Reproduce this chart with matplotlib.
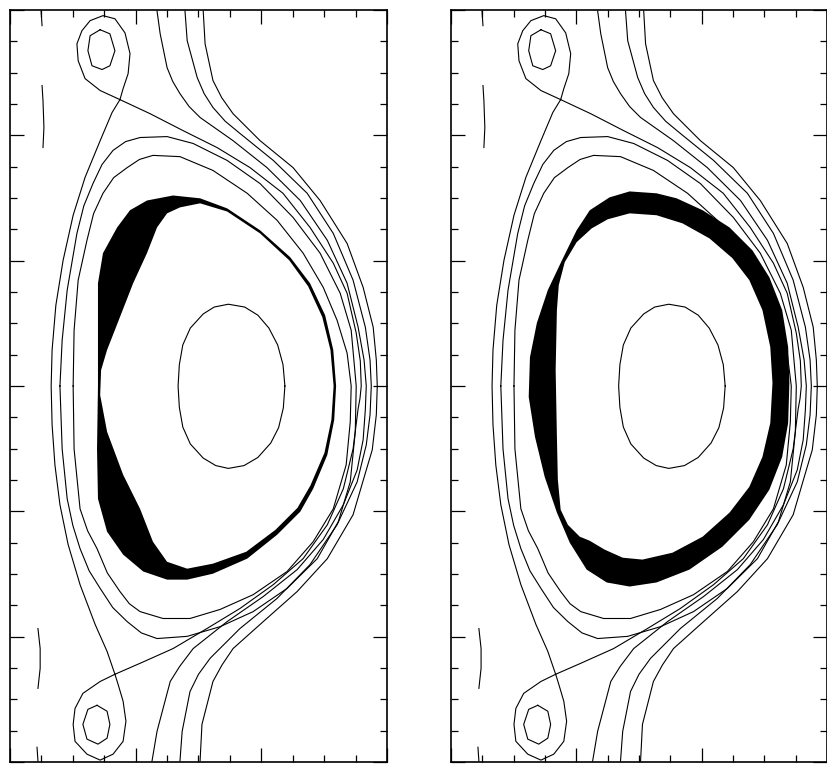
import matplotlib.pyplot as plt
from matplotlib.ticker import MultipleLocator

# flux surface traces (R, Z); minor tick = 1 unit
upper_loop_r = [3.50, 2.87, 2.39, 2.17, 2.13, 2.29, 2.55, 2.96, 3.34, 3.66, 3.82, 3.76, 3.60, 3.50]
upper_loop_z = [9.14, 9.43, 9.81, 10.38, 10.92, 11.34, 11.66, 11.82, 11.72, 11.27, 10.61, 9.97, 9.49, 9.14]

upper_coil_r = [2.87, 3.18, 3.34, 3.18, 2.93, 2.61, 2.48, 2.55, 2.87]
upper_coil_z = [11.37, 11.24, 10.70, 10.22, 10.10, 10.22, 10.70, 11.18, 11.37]

lower_loop_r = [3.34, 2.87, 2.32, 2.07, 2.01, 2.07, 2.45, 2.87, 3.28, 3.60, 3.69, 3.60, 3.44, 3.34]
lower_loop_z = [-9.20, -9.43, -9.81, -10.29, -10.80, -11.34, -11.75, -11.94, -11.75, -11.34, -10.70, -10.06, -9.52, -9.20]

lower_coil_r = [2.77, 3.09, 3.18, 3.09, 2.80, 2.45, 2.32, 2.48, 2.77]
lower_coil_z = [-10.19, -10.38, -10.80, -11.24, -11.43, -11.27, -10.80, -10.32, -10.19]

sep_left_r = [3.50, 3.25, 2.87, 2.39, 2.01, 1.69, 1.46, 1.34, 1.31, 1.34, 1.43, 1.59, 1.85, 2.23, 2.71, 3.09, 3.34]
sep_left_z = [9.14, 8.73, 7.83, 6.66, 5.45, 4.01, 2.58, 1.15, 0.0, -1.24, -2.52, -3.79, -5.06, -6.34, -7.61, -8.47, -9.20]

sep_right_r = [3.50, 4.46, 5.51, 6.59, 7.64, 8.69, 9.55, 10.29, 10.73, 11.02, 11.15, 11.18, 11.14, 11.08, 10.92,
               10.61, 10.10, 9.33, 8.38, 7.32, 6.27, 5.19, 4.14, 3.34]
sep_right_z = [9.14, 8.69, 8.15, 7.61, 6.97, 6.15, 5.06, 3.92, 2.96, 1.69, 0.80, 0.0, -0.40, -0.73, -2.01,
               -3.28, -4.43, -5.51, -6.34, -7.10, -7.74, -8.38, -8.85, -9.20]

outer_surf_r = [1.59, 1.66, 1.82, 2.13, 2.35, 2.64, 2.93, 3.28, 3.68, 4.14, 5.00, 5.83, 6.91, 7.96, 9.01, 9.87,
                10.51, 10.86, 11.02, 10.99, 10.83, 10.45, 9.78, 8.82, 7.74, 6.69, 5.64, 4.68, 4.18, 3.73, 3.27,
                2.87, 2.52, 2.23, 2.00, 1.82, 1.66, 1.59]
outer_surf_z = [0.0, 1.46, 3.06, 4.87, 5.75, 6.46, 7.07, 7.52, 7.80, 7.93, 7.96, 7.74, 7.20, 6.46, 5.38, 4.24,
                2.96, 1.78, 0.0, -1.46, -3.06, -4.33, -5.51, -6.46, -7.20, -7.68, -7.99, -8.06, -7.88, -7.52, -7.07,
                -6.46, -5.90, -5.19, -4.45, -3.60, -2.01, 0.0]

inner_surf_r = [2.01, 2.04, 2.17, 2.45, 2.66, 2.96, 3.30, 3.73, 4.12, 4.55, 5.41, 6.46, 7.55, 8.50, 9.33, 9.97,
                10.41, 10.73, 10.86, 10.83, 10.70, 10.29, 9.65, 8.82, 7.74, 6.69, 5.73, 4.87, 4.14, 3.80, 3.50,
                3.10, 2.77, 2.47, 2.23, 2.04, 2.01]
inner_surf_z = [0.0, 1.78, 3.38, 4.65, 5.50, 6.15, 6.65, 6.97, 7.23, 7.36, 7.32, 6.88, 6.15, 5.29, 4.24, 3.15,
                2.10, 1.05, 0.0, -1.15, -2.52, -3.92, -4.97, -5.92, -6.66, -7.13, -7.42, -7.42, -7.20, -6.95, -6.56,
                -5.97, -5.19, -4.62, -3.92, -2.01, 0.0]

open1_r = [4.68, 4.78, 5.00, 5.18, 5.41, 5.70, 6.05, 7.10, 8.18, 9.24, 10.10, 10.73, 11.08, 11.27, 11.34, 11.31,
           11.24, 11.05, 10.61, 9.97, 9.14, 8.06, 6.91, 5.83, 5.40, 5.10, 4.68, 4.52]
open1_z = [11.97, 11.24, 10.16, 9.72, 9.33, 8.92, 8.57, 7.83, 6.97, 5.92, 4.65, 3.28, 1.88, 0.83, 0.0, -0.76,
           -1.72, -2.68, -3.79, -4.90, -5.86, -6.72, -7.52, -8.38, -8.95, -9.43, -11.02, -11.97]

open2_r = [5.57, 5.64, 5.96, 6.18, 6.46, 6.85, 7.32, 8.38, 9.46, 10.29, 10.92, 11.31, 11.46, 11.50, 11.46, 11.34,
           11.05, 10.41, 9.55, 8.50, 7.32, 6.37, 6.00, 5.73, 5.48, 5.41]
open2_z = [11.97, 11.02, 9.84, 9.33, 8.89, 8.45, 8.06, 7.20, 6.15, 4.87, 3.38, 1.88, 0.83, 0.0, -0.92, -1.88,
           -3.06, -4.43, -5.70, -6.78, -7.74, -8.69, -9.20, -9.75, -11.02, -11.97]

open3_r = [6.15, 6.21, 6.46, 6.74, 7.10, 7.96, 9.01, 9.87, 10.73, 11.24, 11.56, 11.66, 11.69, 11.66, 11.53,
           11.34, 10.92, 10.10, 9.14, 8.06, 7.10, 6.75, 6.46, 6.11, 6.05]
open3_z = [11.97, 10.92, 9.75, 9.20, 8.69, 7.83, 6.97, 5.92, 4.55, 3.15, 1.88, 0.83, 0.0, -0.92, -2.04,
           -2.68, -4.11, -5.51, -6.56, -7.52, -8.38, -8.90, -9.43, -10.80, -11.97]

core_r = [8.75, 8.69, 8.52, 8.24, 7.89, 7.47, 6.95, 6.50, 6.15, 5.74, 5.50, 5.39, 5.35, 5.39, 5.50, 5.74,
          6.15, 6.55, 6.95, 7.45, 7.89, 8.30, 8.55, 8.70, 8.75]
core_z = [0.0, 0.68, 1.31, 1.85, 2.26, 2.52, 2.61, 2.52, 2.30, 1.85, 1.31, 0.68, 0.0, -0.68, -1.31, -1.85,
          -2.30, -2.54, -2.63, -2.54, -2.28, -1.82, -1.33, -0.70, 0.0]

wall_pieces = [
    ([0.99, 1.02], [11.97, 11.50]),
    ([1.02, 1.05, 1.08, 1.05], [9.59, 9.11, 8.25, 7.61]),
    ([0.89, 0.96, 0.96, 0.89], [-7.74, -8.38, -9.01, -9.65]),
    ([0.86, 0.89], [-11.53, -11.97]),
]

# shaded band, case A (left)
bandA_out_r = [4.36, 5.19, 6.05, 6.91, 7.96, 8.92, 9.55, 10.03, 10.29, 10.38, 10.32, 10.10, 9.65, 9.24, 8.50,
               7.55, 6.46, 5.64, 5.00, 4.24, 3.60, 3.09, 2.80, 2.77, 2.80, 2.80, 2.80, 2.96, 3.41, 3.82]
bandA_out_z = [5.92, 6.08, 5.99, 5.67, 4.97, 4.11, 3.28, 2.26, 1.15, 0.0, -1.08, -2.20, -3.28, -4.01, -4.75,
               -5.51, -5.99, -6.18, -6.18, -5.92, -5.38, -4.65, -3.60, -2.01, 0.0, 1.69, 3.28, 4.24, 5.06, 5.61]
bandA_in_r = [5.41, 6.05, 6.91, 7.96, 8.89, 9.49, 9.94, 10.20, 10.30, 10.23, 10.01, 9.56, 9.15, 8.45, 7.52,
              6.46, 5.64, 5.00, 4.55, 4.14, 3.60, 3.09, 2.87, 2.90, 3.09, 3.50, 3.92, 4.36, 4.68, 5.00]
bandA_in_z = [5.70, 5.83, 5.57, 4.87, 4.01, 3.18, 2.20, 1.15, 0.0, -1.08, -2.13, -3.18, -3.89, -4.59, -5.29,
              -5.67, -5.83, -5.61, -4.97, -3.92, -2.83, -1.46, -0.29, 0.51, 1.15, 2.20, 3.28, 4.24, 5.06, 5.51]

# shaded band, case B (right)
bandB_out_r = [5.70, 6.56, 7.20, 8.03, 8.89, 9.62, 10.16, 10.57, 10.76, 10.80, 10.76, 10.57, 10.16, 9.52, 8.66,
               7.61, 6.56, 5.70, 4.97, 4.33, 3.79, 3.38, 2.99, 2.68, 2.48, 2.52, 2.74, 3.09, 3.54, 4.01, 4.43, 5.06]
bandB_out_z = [6.21, 6.15, 5.99, 5.61, 5.06, 4.33, 3.47, 2.42, 1.24, 0.10, -1.18, -2.26, -3.31, -4.27, -5.13,
               -5.86, -6.27, -6.40, -6.27, -5.86, -5.00, -4.04, -2.90, -1.62, -0.35, 0.92, 2.01, 3.06, 4.01, 4.97, 5.61, 6.02]
bandB_in_r = [5.70, 6.56, 7.39, 8.25, 8.98, 9.52, 9.94, 10.19, 10.26, 10.19, 9.94, 9.52, 8.89, 8.03, 7.07,
              6.11, 5.48, 4.90, 4.43, 4.11, 3.73, 3.50, 3.41, 3.38, 3.34, 3.38, 3.44, 3.63, 4.01, 4.49, 5.00]
bandB_in_z = [5.51, 5.45, 5.19, 4.71, 4.08, 3.38, 2.42, 1.24, 0.10, -1.18, -2.26, -3.22, -4.04, -4.81, -5.32,
              -5.54, -5.48, -5.22, -4.94, -4.81, -4.43, -3.95, -2.99, -1.62, 0.51, 2.42, 3.22, 3.95, 4.59, 5.03, 5.32]

fig = plt.figure(figsize=(8.28, 7.64), dpi=100)
ax_a = fig.add_axes([10 / 828, 2 / 764, 377 / 828, 752 / 764])
ax_b = fig.add_axes([451 / 828, 2 / 764, 376 / 828, 752 / 764])

lines = [
    (upper_loop_r, upper_loop_z), (upper_coil_r, upper_coil_z),
    (lower_loop_r, lower_loop_z), (lower_coil_r, lower_coil_z),
    (sep_left_r, sep_left_z), (sep_right_r, sep_right_z),
    (outer_surf_r, outer_surf_z), (inner_surf_r, inner_surf_z),
    (open1_r, open1_z), (open2_r, open2_z), (open3_r, open3_z),
    (core_r, core_z),
] + wall_pieces


def draw_panel(ax, out_r, out_z, in_r, in_z):
    ax.fill(out_r, out_z, color='black', lw=0, zorder=2)
    ax.fill(in_r, in_z, color='white', lw=0, zorder=3)
    for r, z in lines:
        ax.plot(r, z, color='black', lw=0.8, zorder=4, solid_joinstyle='round')

    ax.set_xlim(0, 12)
    ax.set_ylim(-12, 12)
    ax.xaxis.set_major_locator(MultipleLocator(4))
    ax.xaxis.set_minor_locator(MultipleLocator(1))
    ax.yaxis.set_major_locator(MultipleLocator(4))
    ax.yaxis.set_minor_locator(MultipleLocator(1))
    ax.tick_params(which='both', direction='in', top=True, right=True,
                   labelbottom=False, labelleft=False, width=0.9, color='black')
    ax.tick_params(which='major', length=10)
    ax.tick_params(which='minor', length=5)
    for sp in ax.spines.values():
        sp.set_linewidth(1.2)


draw_panel(ax_a, bandA_out_r, bandA_out_z, bandA_in_r, bandA_in_z)
draw_panel(ax_b, bandB_out_r, bandB_out_z, bandB_in_r, bandB_in_z)

fig.savefig('out.png', dpi=100)
